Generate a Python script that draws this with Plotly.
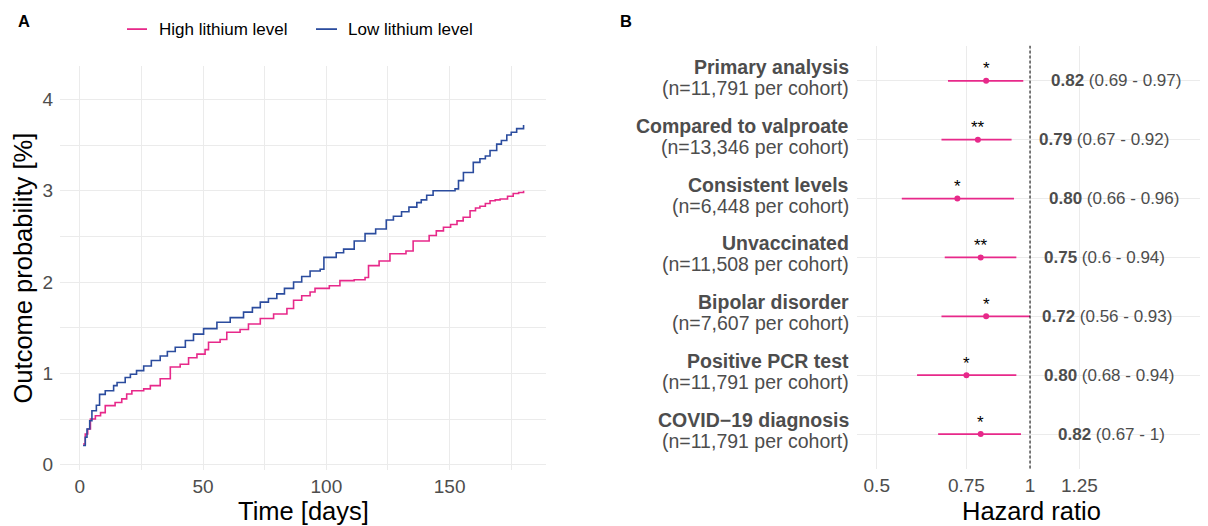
import math
import plotly.graph_objects as go

# ---------------- Panel A data (Kaplan-Meier style cumulative incidence) ----------------
days_high = [1.3, 2.2, 3.2, 4.3, 6.3, 8.4, 10.3, 14.3, 17.0, 19.0, 21.1, 25.9, 28.6, 32.6, 36.7,
             40.7, 44.1, 47.5, 50.8, 52.2, 56.9, 59.6, 65, 68.4, 73.2, 78.6, 84, 86.7, 90, 93.4,
             95.4, 101.2, 105.5, 111.3, 115.7, 117.1, 121.4, 125.8, 132.3, 135.2, 141.7, 144.6,
             147.5, 150.4, 153, 155.5, 158.3, 160.5, 162.3, 164.5, 166.4, 168.5, 170.5, 173.5,
             175.8, 178, 180]
prob_high = [0.226, 0.335, 0.39, 0.50, 0.536, 0.57, 0.646, 0.68, 0.72, 0.774, 0.81, 0.83, 0.865,
             0.94, 1.07, 1.10, 1.17, 1.21, 1.26, 1.34, 1.37, 1.45, 1.48, 1.54, 1.60, 1.65, 1.71,
             1.80, 1.85, 1.89, 1.93, 1.96, 2.015, 2.025, 2.05, 2.18, 2.23, 2.31, 2.34, 2.45, 2.51,
             2.56, 2.60, 2.63, 2.67, 2.71, 2.78, 2.81, 2.83, 2.86, 2.89, 2.90, 2.91, 2.94, 2.97,
             2.98, 3.00]

days_low = [1.3, 2.2, 2.9, 4.0, 4.9, 6.7, 8.0, 10.3, 13.7, 15.1, 18.4, 20.5, 23, 25.9, 29, 32.6,
            35.5, 38.7, 42.8, 46.1, 50.2, 55.6, 61, 66.4, 70, 73.2, 76.5, 79.9, 83, 86.7, 90, 93.4,
            97.5, 99, 104, 107, 111.3, 115.7, 120, 124.3, 127.2, 130.5, 133.5, 136.7, 138.5, 140.7,
            143.3, 152.2, 153.6, 155.6, 159.6, 162.3, 164.5, 166.4, 169.1, 171, 173.2, 175, 177.2,
            180]
prob_low = [0.21, 0.30, 0.39, 0.48, 0.59, 0.65, 0.77, 0.81, 0.865, 0.90, 0.955, 0.99, 1.03, 1.08,
            1.14, 1.19, 1.24, 1.285, 1.36, 1.43, 1.49, 1.56, 1.61, 1.67, 1.72, 1.78, 1.82, 1.87,
            1.93, 2.00, 2.06, 2.12, 2.14, 2.27, 2.32, 2.36, 2.45, 2.53, 2.58, 2.68, 2.72, 2.77,
            2.82, 2.87, 2.90, 2.95, 3.00, 3.02, 3.11, 3.20, 3.31, 3.35, 3.38, 3.44, 3.51, 3.55,
            3.61, 3.64, 3.68, 3.72]

series_names = ["High lithium level", "Low lithium level"]
x_ticks_a = [0, 50, 100, 150]
y_ticks_a = [0, 1, 2, 3, 4]

# ---------------- Panel B data (forest plot) ----------------
analysis_names = ["Primary analysis", "Compared to valproate", "Consistent levels",
                  "Unvaccinated", "Bipolar disorder", "Positive PCR test", "COVID\u221219 diagnosis"]
cohort_n = ["11,791", "13,346", "6,448", "11,508", "7,607", "11,791", "11,791"]
# values as drawn (points and interval lines)
hr_point = [0.82, 0.79, 0.72, 0.80, 0.82, 0.75, 0.80]
ci_low = [0.69, 0.67, 0.56, 0.68, 0.67, 0.60, 0.66]
ci_high = [0.97, 0.92, 0.93, 0.94, 1.00, 0.94, 0.96]
significance = ["*", "**", "*", "**", "*", "*", "*"]
# values as printed in the right-hand labels
hr_label = [0.82, 0.79, 0.80, 0.75, 0.72, 0.80, 0.82]
lo_label = [0.69, 0.67, 0.66, 0.60, 0.56, 0.68, 0.67]
hi_label = [0.97, 0.92, 0.96, 0.94, 0.93, 0.94, 1.00]
x_ticks_b = [0.5, 0.75, 1, 1.25]
x_ticktext_b = ["0.5", "0.75", "1", "1.25"]

# ---------------- styling ----------------
OFF = 8                     # page body margin
VS = 0.989                  # observed vertical scale of the photograph
W, H = 1200, 524
PINK = "#E7298A"
BLUE = "#2B4C9E"
GRID = "#EBEBEB"
TICK = "#4D4D4D"
FONT = "Liberation Sans, Arial, sans-serif"


def px_x(p):
    return (p - OFF) / W


def px_y(p):
    return 1 - (p / VS - OFF) / H


fig = go.Figure()

fig.add_trace(go.Scatter(x=days_high, y=prob_high, mode="lines", line=dict(color=PINK, width=1.6, shape="hv"),
                         name=series_names[0], showlegend=False, xaxis="x", yaxis="y"))
fig.add_trace(go.Scatter(x=days_low, y=prob_low, mode="lines", line=dict(color=BLUE, width=1.6, shape="hv"),
                         name=series_names[1], showlegend=False, xaxis="x", yaxis="y"))

rows = list(range(len(analysis_names)))
ci_x, ci_y = [], []
for i in rows:
    ci_x += [ci_low[i], ci_high[i], None]
    ci_y += [i, i, None]
fig.add_trace(go.Scatter(x=ci_x, y=ci_y, mode="lines", line=dict(color=PINK, width=1.8),
                         showlegend=False, xaxis="x2", yaxis="y2", hoverinfo="skip"))
fig.add_trace(go.Scatter(x=[1, 1], y=[-0.6, len(rows) - 0.4], mode="lines",
                         line=dict(color="black", width=1, dash="3px,2px"),
                         showlegend=False, xaxis="x2", yaxis="y2", hoverinfo="skip"))
fig.add_trace(go.Scatter(x=hr_point, y=rows, mode="markers", marker=dict(color=PINK, size=6),
                         showlegend=False, xaxis="x2", yaxis="y2"))


def paper_text(x, y, text, size, color="black", xanchor="center", angle=0):
    return dict(x=px_x(x), y=px_y(y), xref="paper", yref="paper", text=text, showarrow=False,
                xanchor=xanchor, yanchor="middle", textangle=angle,
                font=dict(size=size, color=color, family=FONT))


annotations = []
# row labels (two lines, right aligned)
for i in rows:
    annotations.append(dict(x=px_x(851), y=i, xref="paper", yref="y2", text=f"<b>{analysis_names[i]}</b>",
                            showarrow=False, xanchor="right", yanchor="middle", yshift=14,
                            font=dict(size=19.5, color=TICK, family=FONT)))
    annotations.append(dict(x=px_x(851), y=i, xref="paper", yref="y2", text=f"(n={cohort_n[i]} per cohort)",
                            showarrow=False, xanchor="right", yanchor="middle", yshift=-7,
                            font=dict(size=19.5, color=TICK, family=FONT)))
# significance stars
for i in rows:
    annotations.append(dict(x=math.log10(hr_point[i]), y=i, xref="x2", yref="y2", text=significance[i],
                            showarrow=False, xanchor="center", yanchor="middle", yshift=12,
                            font=dict(size=17, color="black", family=FONT)))
# HR labels
for i in rows:
    txt = f"<b>{hr_label[i]:.2f}</b> ({lo_label[i]:g} - {hi_label[i]:g})"
    annotations.append(dict(x=math.log10(hi_label[i] * 1.1227), y=i, xref="x2", yref="y2", text=txt,
                            showarrow=False, xanchor="left", yanchor="middle",
                            font=dict(size=17, color=TICK, family=FONT)))
# panel letters
annotations.append(paper_text(24, 21, "<b>A</b>", 16.5))
annotations.append(paper_text(626, 21, "<b>B</b>", 16.5))
# axis titles
annotations.append(paper_text(23, 268, "Outcome probability [%]", 25.5, angle=-90))
annotations.append(paper_text(303, 510, "Time [days]", 25.5))
annotations.append(paper_text(1031, 510, "Hazard ratio", 25.5))
# legend texts
annotations.append(paper_text(157, 29, series_names[0], 17, xanchor="left"))
annotations.append(paper_text(346, 29, series_names[1], 17, xanchor="left"))

shapes = [
    dict(type="line", xref="paper", yref="paper", x0=px_x(127), x1=px_x(147), y0=px_y(29), y1=px_y(29),
         line=dict(color=PINK, width=1.8)),
    dict(type="line", xref="paper", yref="paper", x0=px_x(316), x1=px_x(337), y0=px_y(29), y1=px_y(29),
         line=dict(color=BLUE, width=1.8)),
]

fig.update_layout(
    width=W, height=H, autosize=False,
    margin=dict(l=0, r=0, t=0, b=0),
    paper_bgcolor="white", plot_bgcolor="white",
    font=dict(family=FONT, color=TICK),
    showlegend=False,
    xaxis=dict(domain=[px_x(60), px_x(546)], range=[-8.05, 189.1], tickvals=x_ticks_a,
               showgrid=True, gridcolor=GRID, gridwidth=1.4, zeroline=False, showline=False, ticks="",
               tickfont=dict(size=19, color=TICK), ticklabelstandoff=3,
               minor=dict(dtick=25, tick0=0, showgrid=True, gridcolor=GRID, gridwidth=0.9),
               anchor="y"),
    yaxis=dict(domain=[px_y(469), px_y(66)], range=[-0.056, 4.364], tickvals=y_ticks_a,
               showgrid=True, gridcolor=GRID, gridwidth=1.4, zeroline=False, showline=False, ticks="",
               tickfont=dict(size=19, color=TICK), ticklabelstandoff=6,
               minor=dict(dtick=0.5, tick0=0, showgrid=True, gridcolor=GRID, gridwidth=0.9),
               anchor="x"),
    xaxis2=dict(domain=[px_x(857), px_x(1205)], type="log",
                range=[math.log10(0.4573), math.log10(2.206)],
                tickvals=x_ticks_b, ticktext=x_ticktext_b,
                showgrid=True, gridcolor=GRID, gridwidth=1.4, zeroline=False, showline=False, ticks="",
                tickfont=dict(size=19, color=TICK), ticklabelstandoff=3, anchor="y2"),
    yaxis2=dict(domain=[px_y(468.6), px_y(45.4)], range=[len(rows) - 0.4, -0.6],
                tickvals=rows, showticklabels=False,
                showgrid=True, gridcolor=GRID, gridwidth=1.4, zeroline=False, showline=False, ticks="",
                anchor="x2"),
    annotations=annotations,
    shapes=shapes,
)

fig.write_html("out.html")
